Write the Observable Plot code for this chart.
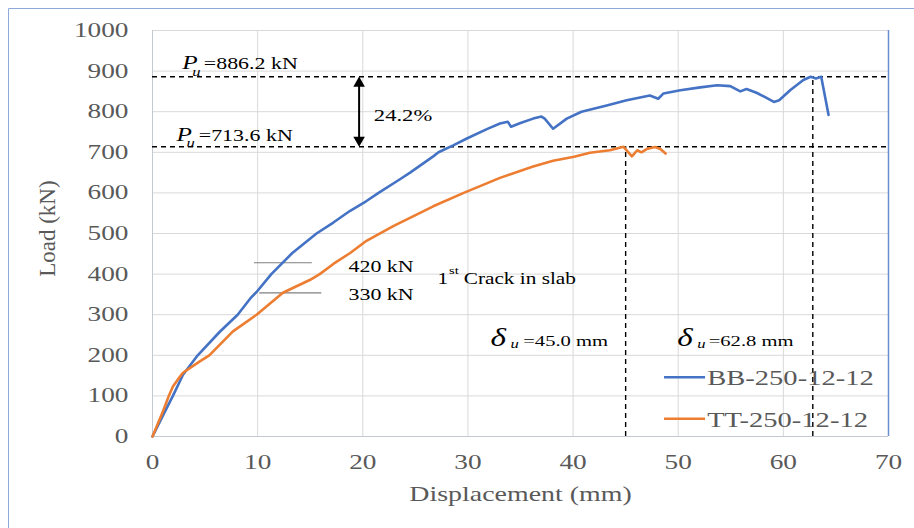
<!DOCTYPE html>
<html><head><meta charset="utf-8">
<script src="https://cdn.jsdelivr.net/npm/d3@7"></script>
<script src="https://cdn.jsdelivr.net/npm/@observablehq/plot@0.6"></script>
<style>body{margin:0;background:#fff}#chart{width:914px;height:528px}#chart svg text{font-family:"Liberation Serif","Times New Roman",serif}</style>
</head><body><div id="chart"></div>
<script>
// ---- data ----
const seriesNames = ["BB-250-12-12", "TT-250-12-12"];
const seriesColors = ["#4472C4", "#ED7D31"];
const bbDisp = [0,1,1.94,2.9,4.3,6.4,8.1,9.3,9.9,11.3,13.3,15.6,17.2,18.8,20.35,21.5,23.5,24.5,26.7,27.2,28.6,29.9,31.8,33.05,33.8,34.1,35,36.2,37,37.3,38.1,39.4,40.8,43.2,45.1,47.3,48.1,48.6,50.2,52.1,53.7,54.95,55.9,56.5,57.5,58.4,59.1,59.6,60.7,61.9,62.6,63.1,63.6,64.3];
const bbLoad = [0,52,100,152,200,258,300,340,356,400,452,500,527,556,580,600,633,650,690,700,717,734,757,771,775,763,772,783,788,783,758,783,800,815,828,840,832,845,853,860,865,863,850,856,846,834,824,828,854,878,886,882,886,792];
const ttDisp = [0,1,1.55,1.94,2.4,2.9,4.5,5.4,7.65,9.9,12.4,15.0,15.9,17.2,18.8,20.35,22.9,26.7,29.6,33.05,36.2,38.1,40.1,41.6,43.5,44.8,45.6,46.1,46.5,47.0,47.8,48.3,48.8];
const ttLoad = [0,62,100,123,140,157,185,200,259,300,354,386,400,425,452,482,518,567,600,637,665,679,689,699,705,713.6,690,705,700,708,713,708,697];
const xTicks = [0,10,20,30,40,50,60,70];
const yTicks = [0,100,200,300,400,500,600,700,800,900,1000];
const peakLoads = [886.2, 713.6];
const peakDisps = [62.8, 45.0];
const peakLabels = ["=886.2 kN", "=713.6 kN"];
const deltaLabels = ["=62.8 mm", "=45.0 mm"];
const crackLabels = ["420 kN", "330 kN"];
const crackLineLoads = [428, 354];
const ratioLabel = "24.2%";

const bb = bbDisp.map((d, i) => ({d, L: bbLoad[i]}));
const tt = ttDisp.map((d, i) => ({d, L: ttLoad[i]}));

const serif = "Liberation Serif, Times New Roman, serif";
const T = (x, y, text, o = {}) => Plot.text([text], {x: () => x, y: () => y, text: d => d, textAnchor: "start", fill: "black", fontSize: 16.5, fontFamily: serif, ...o});

const plot = Plot.plot({
  width: 914, height: 528,
  marginLeft: 152, marginRight: 26, marginTop: 30, marginBottom: 92,
  style: {fontFamily: serif, fontSize: "20.5px", color: "#595959", background: "white"},
  x: {domain: [0, 70]},
  y: {domain: [0, 1000]},
  marks: [
    Plot.gridX(xTicks, {stroke: "#d9d9d9", strokeOpacity: 1}),
    Plot.gridY(yTicks, {stroke: "#d9d9d9", strokeOpacity: 1}),
    Plot.ruleY([0], {stroke: "#c4c8cf"}),
    Plot.ruleX([0], {stroke: "#c4c8cf"}),
    Plot.ruleX([70], {y1: 0, y2: 1000, stroke: "#6a8fd0", strokeWidth: 1.5}),
    Plot.axisX(xTicks, {tickSize: 0, tickPadding: 18, label: null, tickFormat: d => String(d), fontFamily: serif}),
    Plot.axisY(yTicks, {tickSize: 0, tickPadding: 24, label: null, tickFormat: d => String(d), fontFamily: serif}),
    // axis titles
    Plot.text(["Displacement (mm)"], {x: () => 35, y: () => -143, text: d => d, fontSize: 21, fill: "#595959", fontFamily: serif}),
    Plot.text(["Load (kN)"], {x: () => -10, y: () => 512, text: d => d, fontSize: 23, fill: "#595959", rotate: -90, fontFamily: serif}),
    // peak dashed lines
    Plot.ruleY(peakLoads, {x1: 0, x2: 70, stroke: "black", strokeWidth: 1.4, strokeDasharray: "5,4"}),
    Plot.ruleX(peakDisps, {y1: 0, y2: (d, i) => peakLoads[i], stroke: "black", strokeWidth: 1.4, strokeDasharray: "5,4"}),
    // crack marker lines
    Plot.ruleY(crackLineLoads, {x1: [9.7, 10.2], x2: [15.2, 16.1], stroke: "#7f7f7f", strokeWidth: 1.2}),
    // curves
    Plot.line(bb, {x: "d", y: "L", stroke: seriesColors[0], strokeWidth: 2.6}),
    Plot.line(tt, {x: "d", y: "L", stroke: seriesColors[1], strokeWidth: 2.6}),
    // double arrow
    Plot.ruleX([19.65], {y1: 870, y2: 730, stroke: "black", strokeWidth: 2}),
    Plot.dot([886.2], {x: () => 19.65, y: d => d, symbol: "triangle", r: 4.3, fill: "black", dy: 6.6}),
    Plot.dot([713.6], {x: () => 19.65, y: d => d, symbol: "triangle", r: 4.3, fill: "black", rotate: 180, dy: -6.6}),
    // Pu labels
    T(2.82, 919, "P", {fontStyle: "italic", fontSize: 19}),
    T(3.77, 899, "u", {fontStyle: "italic", fontSize: 12.5}),
    T(4.88, 918.5, peakLabels[0]),
    T(2.28, 744, "P", {fontStyle: "italic", fontSize: 19}),
    T(3.23, 724, "u", {fontStyle: "italic", fontSize: 12.5}),
    T(4.40, 742, peakLabels[1]),
    T(21.05, 791, ratioLabel, {fontSize: 17}),
    // crack labels
    T(18.64, 418, crackLabels[0]),
    T(18.64, 348, crackLabels[1]),
    T(27.1, 389, "1", {fontSize: 16}),
    T(28.2, 410, "st", {fontSize: 11}),
    T(29.6, 389, "Crack in slab", {fontSize: 16}),
    // delta labels
    T(32.15, 243, "δ", {fontStyle: "italic", fontSize: 25}),
    T(34.05, 229, "u", {fontStyle: "italic", fontSize: 12.5}),
    T(35.26, 234, deltaLabels[1], {fontSize: 15.5}),
    T(49.9, 243, "δ", {fontStyle: "italic", fontSize: 25}),
    T(51.8, 229, "u", {fontStyle: "italic", fontSize: 12.5}),
    T(52.9, 234, deltaLabels[0], {fontSize: 15.5}),
    // legend
    Plot.ruleY([146], {x1: 48.7, x2: 52.6, stroke: seriesColors[0], strokeWidth: 2.6}),
    Plot.ruleY([43.6], {x1: 48.7, x2: 52.6, stroke: seriesColors[1], strokeWidth: 2.6}),
    T(52.75, 143, seriesNames[0], {fontSize: 21.5, fill: "#595959"}),
    T(52.75, 40, seriesNames[1], {fontSize: 21.5, fill: "#595959"})
  ]
});

// horizontal stretch of text, as in the (widened) reference picture
plot.querySelectorAll("text").forEach(t => {
  const tr = t.getAttribute("transform") || "";
  if (tr.includes("rotate")) return;
  t.setAttribute("transform", `${tr} scale(1.33,1)`);
});
// outer chart frame
d3.select(plot).append("path").attr("d", "M8.5,528V8.5H914").attr("fill", "none").attr("stroke", "#8eaadb").attr("stroke-width", 1);
document.getElementById("chart").appendChild(plot);
</script></body></html>
